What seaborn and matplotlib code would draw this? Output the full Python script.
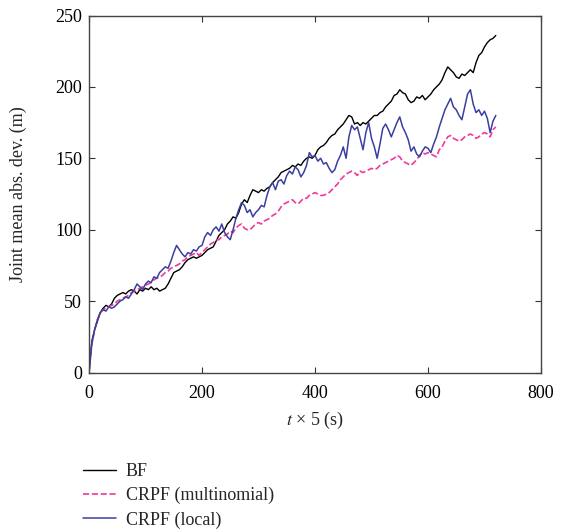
import numpy as np
import pandas as pd
import matplotlib
matplotlib.use("Agg")
import matplotlib.pyplot as plt
import seaborn as sns

step = 5

bf = [0, 22, 30, 36, 42, 45, 47, 46, 48, 52,
      54, 55, 56, 55, 57, 58, 57, 55, 58, 57,
      59, 58, 60, 58, 59, 57, 58, 59, 62, 66,
      70, 71, 72, 74, 77, 79, 80, 81, 80, 81,
      82, 84, 86, 87, 88, 92, 96, 98, 100, 104,
      106, 109, 108, 112, 118, 121, 119, 124, 128, 127,
      126, 128, 127, 129, 130, 133, 135, 137, 140, 141,
      142, 143, 145, 144, 146, 145, 148, 150, 151, 150,
      152, 156, 158, 159, 161, 164, 166, 167, 170, 172,
      174, 177, 180, 179, 174, 175, 173, 175, 174, 176,
      178, 180, 180, 182, 183, 186, 188, 190, 194, 195,
      198, 196, 195, 191, 189, 190, 193, 192, 194, 191,
      193, 195, 198, 200, 202, 205, 210, 214, 212, 210,
      207, 206, 209, 208, 210, 212, 210, 217, 222, 224,
      228, 231, 233, 234, 236]

crpf_multi = [0, 20, 30, 37, 42, 44, 45, 46, 47, 48,
              50, 51, 52, 53, 54, 56, 57, 58, 59, 60,
              61, 62, 63, 65, 66, 67, 68, 70, 71, 73,
              74, 75, 76, 78, 79, 81, 82, 83, 84, 82,
              84, 86, 88, 90, 91, 93, 93, 95, 96, 97,
              99, 98, 101, 103, 104, 101, 100, 100, 102, 104,
              105, 104, 106, 107, 108, 110, 111, 113, 116, 118,
              119, 120, 121, 119, 118, 120, 122, 122, 124, 125,
              126, 125, 124, 124, 125, 126, 128, 130, 132, 135,
              137, 139, 140, 141, 140, 138, 141, 140, 141, 142,
              143, 142, 143, 145, 146, 147, 148, 149, 150, 152,
              151, 148, 147, 146, 145, 147, 149, 152, 154, 153,
              154, 153, 152, 151, 156, 158, 162, 165, 166, 164,
              163, 162, 163, 165, 166, 167, 166, 164, 165, 167,
              168, 167, 165, 170, 172]

crpf_local = [0, 20, 30, 37, 42, 44, 43, 46, 45, 46,
              48, 50, 51, 53, 52, 55, 58, 62, 60, 58,
              62, 64, 63, 67, 66, 70, 72, 74, 73, 78,
              84, 89, 86, 83, 81, 84, 83, 86, 85, 88,
              89, 95, 98, 96, 100, 102, 99, 104, 98, 95,
              93, 100, 108, 114, 119, 117, 112, 114, 109, 112,
              114, 117, 116, 124, 130, 133, 128, 134, 135, 132,
              138, 141, 139, 144, 142, 137, 140, 145, 154, 151,
              152, 148, 150, 146, 147, 143, 140, 142, 148, 152,
              158, 150, 165, 173, 170, 172, 164, 156, 168, 175,
              164, 158, 150, 160, 171, 174, 170, 165, 170, 175,
              179, 172, 168, 163, 155, 158, 153, 151, 155, 158,
              157, 154, 160, 165, 172, 178, 184, 188, 192, 186,
              184, 180, 177, 186, 195, 198, 188, 182, 184, 180,
              183, 178, 168, 176, 180]

names = ["BF", "CRPF (multinomial)", "CRPF (local)"]
colors = ["#000000", "#ee3a9a", "#3a3fa0"]
dashes = ["-", "--", "-"]
widths = [1.0, 1.2, 1.1]

sns.set_style("ticks")
plt.rcParams["font.family"] = ["Liberation Serif", "DejaVu Serif"]
plt.rcParams["mathtext.fontset"] = "stix"

fig = plt.figure(figsize=(5.65, 5.31), dpi=100)
ax = fig.add_axes([89 / 565, 1 - 372.5 / 531, 452 / 565, 357 / 531])

for ys, name, c, ls, lw in zip([bf, crpf_multi, crpf_local], names, colors, dashes, widths):
    df = pd.DataFrame({"t": np.arange(len(ys)) * step, "v": ys})
    sns.lineplot(data=df, x="t", y="v", ax=ax, color=c, linestyle=ls, linewidth=lw, label=name)

ax.set_xlim(0, 800)
ax.set_ylim(0, 250)
ax.set_xticks([0, 200, 400, 600, 800])
ax.set_yticks([0, 50, 100, 150, 200, 250])
ax.tick_params(direction="in", top=True, right=True, length=4, labelsize=13,
               colors="#333333", labelcolor="black")
ax.tick_params(axis="x", pad=9)
ax.tick_params(axis="y", pad=5)
for s in ax.spines.values():
    s.set_color("#444444")
    s.set_linewidth(1.0)
ax.set_xlabel(r"$t$ × 5 (s)", fontsize=13, labelpad=6)
ax.set_ylabel("Joint mean abs. dev. (m)", fontsize=13, labelpad=20)

h, l = ax.get_legend_handles_labels()
ax.legend_.remove()
fig.legend(h, l, loc="upper left", bbox_to_anchor=(67 / 565, 1 - 447 / 531), frameon=False,
           fontsize=13, handlelength=1.8, handletextpad=0.55, labelspacing=0.38)

fig.savefig("out.png", dpi=100)
